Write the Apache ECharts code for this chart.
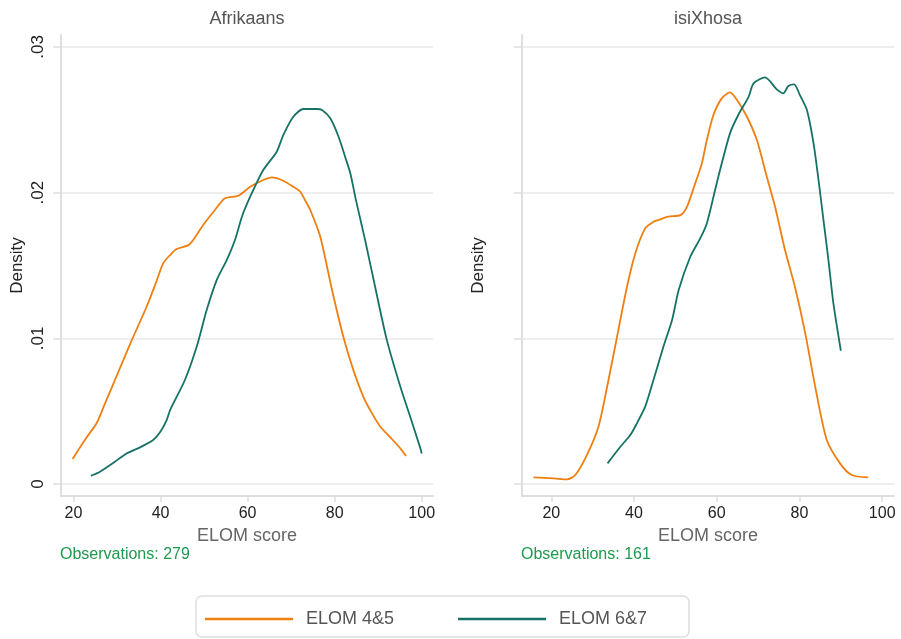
<!DOCTYPE html>
<html>
<head>
<meta charset="utf-8">
<script src="https://cdn.jsdelivr.net/npm/echarts@6/dist/echarts.min.js"></script>
<style>
html,body{margin:0;padding:0;background:#fff;}
#c{width:901px;height:639px;}
</style>
</head>
<body>
<div id="c"></div>
<script>
// ---- Data ----
const panelTitles = ['Afrikaans', 'isiXhosa'];
const seriesNames = ['ELOM 4&5', 'ELOM 6&7'];
const observations = ['Observations: 279', 'Observations: 161'];
const xTicks = [20, 40, 60, 80, 100];
const yTicks = [0, 0.01, 0.02, 0.03];
const yTickLabels = ['0', '.01', '.02', '.03'];

// Afrikaans, ELOM 4&5
const afr45X = [19.8, 21.1, 23.0, 25.3, 27.2, 29.2, 31.3, 33.4, 36.8, 38.8, 40.6, 42.2, 43.7, 46.4, 47.5, 49.8, 52.5, 54.8, 57.9, 60.6, 63.6, 65.6, 68.2, 70.5, 72.1, 73.2, 74.4, 76.7, 79.4, 82.0, 84.3, 86.6, 88.5, 90.5, 92.8, 95.1, 96.4];
const afr45Y = [0.00172, 0.00233, 0.0032, 0.00417, 0.0055, 0.00691, 0.0084, 0.00988, 0.01217, 0.0137, 0.01515, 0.01572, 0.01613, 0.0164, 0.01675, 0.01778, 0.01881, 0.01961, 0.01979, 0.0204, 0.02087, 0.02105, 0.02082, 0.0204, 0.02006, 0.01949, 0.01881, 0.01697, 0.01332, 0.01011, 0.00782, 0.00599, 0.0049, 0.00393, 0.0032, 0.00245, 0.00192];
// Afrikaans, ELOM 6&7
const afr67X = [24.0, 26.1, 29.5, 32.2, 35.3, 38.3, 40.0, 41.4, 42.2, 45.6, 48.3, 50.6, 52.9, 55.2, 57.1, 58.7, 60.6, 63.6, 66.7, 68.2, 70.5, 72.8, 75.9, 77.1, 79.0, 80.9, 82.4, 83.6, 84.9, 86.3, 87.0, 89.3, 92.0, 95.1, 97.5, 99.7, 100.0];
const afr67Y = [0.00057, 0.00085, 0.00153, 0.0021, 0.00252, 0.00302, 0.0036, 0.00439, 0.00508, 0.00714, 0.00942, 0.01194, 0.014, 0.01537, 0.01675, 0.01835, 0.01972, 0.02155, 0.02281, 0.02395, 0.02521, 0.02574, 0.02574, 0.02567, 0.0251, 0.02384, 0.02247, 0.02133, 0.01949, 0.01766, 0.01675, 0.01354, 0.00988, 0.00668, 0.0045, 0.00245, 0.0021];
// isiXhosa, ELOM 4&5
const xho45X = [15.7, 20.6, 23.8, 25.8, 28.6, 31.4, 33.5, 35.9, 38.3, 40.3, 42.7, 44.7, 45.9, 48.3, 51.2, 52.8, 54.8, 56.4, 57.6, 59.2, 61.2, 63.2, 64.9, 67.3, 69.7, 72.1, 74.1, 76.5, 78.9, 81.4, 83.8, 86.6, 89.8, 92.6, 96.6];
const xho45Y = [0.00046, 0.00039, 0.00032, 0.00062, 0.00199, 0.00393, 0.00668, 0.01011, 0.01354, 0.01583, 0.01755, 0.018, 0.01812, 0.01835, 0.01846, 0.01903, 0.02064, 0.02201, 0.02361, 0.02533, 0.02647, 0.02688, 0.02636, 0.02521, 0.02361, 0.02109, 0.01903, 0.01606, 0.01354, 0.01034, 0.00668, 0.00302, 0.00142, 0.00062, 0.00046];
// isiXhosa, ELOM 6&7
const xho67X = [33.6, 36.7, 39.1, 40.7, 42.7, 44.7, 47.1, 49.2, 50.8, 53.6, 56.0, 57.6, 59.6, 60.8, 63.2, 65.2, 67.7, 68.9, 71.7, 74.5, 76.1, 77.3, 78.7, 80.1, 81.8, 83.4, 84.6, 85.8, 87.0, 88.2, 90.0];
const xho67Y = [0.00142, 0.00256, 0.00336, 0.00417, 0.00531, 0.00714, 0.00942, 0.01126, 0.01332, 0.0156, 0.01686, 0.01789, 0.02018, 0.02155, 0.02407, 0.02533, 0.02658, 0.0275, 0.02791, 0.02709, 0.02682, 0.02732, 0.02743, 0.0267, 0.02567, 0.02338, 0.02087, 0.01812, 0.01537, 0.0124, 0.00915];

// ---- Styling ----
const FONT = 'Liberation Sans, Arial, sans-serif';
const C45 = '#ef7f11';
const C67 = '#177266';
const AXIS_C = '#dedede';
const zip = (xs, ys) => xs.map((x, i) => [x, ys[i]]);

const grids = [
  {left: 61, top: 35, width: 372, height: 461},
  {left: 522, top: 35, width: 372, height: 461}
];
const xRanges = [[17.13, 102.6], [12.92, 102.85]];

function makeX(i) {
  return {
    type: 'value', gridIndex: i, min: xRanges[i][0], max: xRanges[i][1],
    axisLine: {show: true, onZero: false, lineStyle: {color: AXIS_C, width: 2}},
    axisTick: {show: true, customValues: xTicks, length: 6, lineStyle: {color: AXIS_C, width: 1.5}},
    axisLabel: {customValues: xTicks, color: '#222', fontSize: 16, fontFamily: FONT, margin: 10},
    splitLine: {show: false},
    name: 'ELOM score', nameLocation: 'middle', nameGap: 28,
    nameTextStyle: {color: '#666', fontSize: 18, fontFamily: FONT}
  };
}
function makeY(i) {
  return {
    type: 'value', gridIndex: i, min: -0.00082, max: 0.03082,
    axisLine: {show: true, onZero: false, lineStyle: {color: AXIS_C, width: 2}},
    axisTick: {show: true, customValues: yTicks, length: 8, lineStyle: {color: AXIS_C, width: 1.5}},
    axisLabel: {show: i === 0, customValues: yTicks, rotate: 90, color: '#222', fontSize: 17, fontFamily: FONT, margin: 14,
      formatter: v => yTickLabels[yTicks.findIndex(t => Math.abs(t - v) < 1e-9)] ?? ''},
    splitLine: {show: true, lineStyle: {color: '#e8e8e8', width: 1.5}},
    name: 'Density', nameLocation: 'middle', nameGap: 35,
    nameTextStyle: {color: '#222', fontSize: 17, fontFamily: FONT}
  };
}
function line(name, color, data, idx) {
  return {
    type: 'line', name, data, xAxisIndex: idx, yAxisIndex: idx,
    symbol: 'none', smooth: 0.25, color,
    lineStyle: {color, width: 1.8}, z: 5
  };
}

const chart = echarts.init(document.getElementById('c'), null, {renderer: 'canvas'});
chart.setOption({
  backgroundColor: '#fff',
  animation: false,
  grid: grids,
  xAxis: [makeX(0), makeX(1)],
  yAxis: [makeY(0), makeY(1)],
  legend: {
    data: seriesNames.map(n => ({name: n, icon: 'rect'})),
    left: 200, top: 605, itemWidth: 88, itemHeight: 2.5, itemGap: 64,
    textStyle: {color: '#555', fontSize: 18, fontFamily: FONT, padding: [0, 0, 0, 8]},
    z: 10
  },
  graphic: [
    {type: 'rect', z: 1, shape: {x: 196, y: 596, width: 493, height: 41, r: 6},
     style: {fill: '#fff', stroke: '#dedede', lineWidth: 1.5}},
    {type: 'text', x: 247, y: 10, style: {text: panelTitles[0], fill: '#555', font: '18px ' + FONT, textAlign: 'center'}},
    {type: 'text', x: 708, y: 10, style: {text: panelTitles[1], fill: '#555', font: '18px ' + FONT, textAlign: 'center'}},
    {type: 'text', x: 60, y: 547, style: {text: observations[0], fill: '#1e9a4c', font: '16px ' + FONT}},
    {type: 'text', x: 521, y: 547, style: {text: observations[1], fill: '#1e9a4c', font: '16px ' + FONT}}
  ],
  series: [
    line(seriesNames[0], C45, zip(afr45X, afr45Y), 0),
    line(seriesNames[1], C67, zip(afr67X, afr67Y), 0),
    line(seriesNames[0], C45, zip(xho45X, xho45Y), 1),
    line(seriesNames[1], C67, zip(xho67X, xho67Y), 1)
  ]
});
</script>
</body>
</html>
